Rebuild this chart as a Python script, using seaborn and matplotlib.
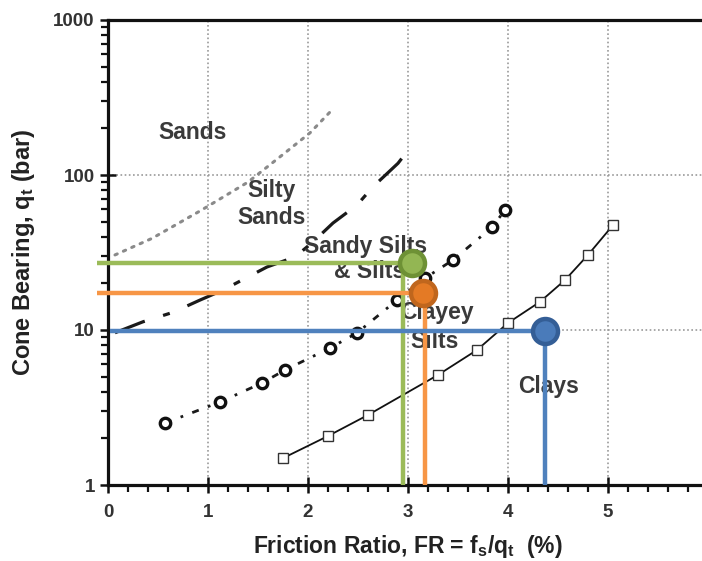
import numpy as np
import matplotlib
matplotlib.use('Agg')
import matplotlib.pyplot as plt
import seaborn as sns
from matplotlib.ticker import FixedLocator, NullFormatter

sns.set_theme(style='white')
plt.rcParams['font.family'] = ['Liberation Sans', 'DejaVu Sans']
plt.rcParams['mathtext.fontset'] = 'custom'
plt.rcParams['mathtext.rm'] = 'Liberation Sans:bold'
plt.rcParams['mathtext.it'] = 'Liberation Sans:bold'
plt.rcParams['mathtext.bf'] = 'Liberation Sans:bold'
plt.rcParams['mathtext.default'] = 'rm'

# boundary curves (FR in %, qt in bar)
sands_fr = [0.07, 0.44, 0.92, 1.40, 1.72, 2.02, 2.25]
sands_qt = [30.5, 39, 58.6, 90, 131, 187, 267]

silty_fr = [0.07, 0.35, 0.65, 0.92, 1.15, 1.59, 1.87, 2.05, 2.25, 2.49, 2.65, 2.90, 2.95]
silty_qt = [9.6, 11.3, 13.0, 15.6, 18.1, 25.5, 29.6, 37, 49, 64, 84, 119, 131]

sandy_fr = [0.57, 1.12, 1.54, 1.77, 2.22, 2.49, 2.89, 3.17, 3.45, 3.84, 3.97]
sandy_qt = [2.51, 3.43, 4.55, 5.52, 7.65, 9.57, 15.6, 21.6, 28.3, 46, 59.4]

clay_fr = [1.75, 2.2, 2.6, 3.3, 3.69, 4.0, 4.32, 4.57, 4.8, 5.05]
clay_qt = [1.49, 2.07, 2.83, 5.13, 7.43, 11.1, 15.2, 21, 30.5, 47.5]

# zone labels
zone_text = ['Sands', 'Silty', 'Sands', 'Sandy Silts', '& Silts', 'Clayey', 'Silts', 'Clays']
zone_fr = [0.85, 1.64, 1.64, 2.58, 2.62, 3.29, 3.27, 4.41]
zone_qt = [189, 80, 52.8, 34.8, 23.7, 12.9, 8.4, 4.29]

# highlighted readings: horizontal start, circle point, vertical line position
mark_names = ['green', 'orange', 'blue']
mark_qt = [27.0, 17.3, 9.9]
mark_start = [-0.11, -0.11, 0.02]
mark_circle_fr = [3.04, 3.15, 4.37]
mark_vert_fr = [2.95, 3.17, 4.37]
line_colors = ['#9BBB59', '#F79646', '#4F81BD']
face_colors = ['#93B653', '#E47A25', '#4A7BBA']
edge_colors = ['#6E9135', '#C0661D', '#345E96']

fig = plt.figure(figsize=(7.02, 5.61), dpi=100)
ax = fig.add_axes([108 / 702, 76 / 561, 600 / 702, 465 / 561])

sns.lineplot(x=sands_fr, y=sands_qt, ax=ax, color='#8a8a8a', lw=2.2,
             linestyle=(0, (0.8, 2.2)), dash_capstyle='round', sort=False, estimator=None)
sns.lineplot(x=silty_fr, y=silty_qt, ax=ax, color='#1a1a1a', lw=2.3,
             linestyle=(0, (10, 6, 2.2, 6)), sort=False, estimator=None)
sns.lineplot(x=sandy_fr, y=sandy_qt, ax=ax, color='#1a1a1a', lw=2.0,
             linestyle=(0, (2.5, 3.5, 1, 3.5)), marker='o', markersize=7.5,
             markerfacecolor='white', markeredgecolor='#111111', markeredgewidth=2.4,
             sort=False, estimator=None)
sns.lineplot(x=clay_fr, y=clay_qt, ax=ax, color='#111111', lw=1.3,
             marker='s', markersize=7, markerfacecolor='white',
             markeredgecolor='#333333', markeredgewidth=1.0, sort=False, estimator=None)

ax.set_yscale('log')
ax.set_xlim(0, 6)
ax.set_ylim(1, 1000)

ax.yaxis.set_major_locator(FixedLocator([1, 10, 100, 1000]))
ax.set_yticklabels(['1', '10', '100', '1000'])
minor_y = [m * 10 ** e for e in range(0, 3) for m in range(2, 10)]
ax.yaxis.set_minor_locator(FixedLocator(minor_y))
ax.yaxis.set_minor_formatter(NullFormatter())
ax.set_xticks(range(0, 7))
ax.set_xticklabels(['0', '1', '2', '3', '4', '5', ''])
ax.set_xticks(np.arange(0, 6.01, 0.2), minor=True)

ax.grid(True, which='major', color='#9a9a9a', linestyle=(0, (1, 1.5)), lw=1.2)

for s in ['left', 'bottom', 'top']:
    ax.spines[s].set_color('#111111')
    ax.spines[s].set_linewidth(2.3)
ax.spines['right'].set_visible(False)

ax.tick_params(axis='both', which='both', bottom=True, left=True, top=False, right=False)
ax.tick_params(axis='both', which='major', direction='inout', length=11, width=1.8,
               color='#111111', labelsize=13.5, labelcolor='#333333')
ax.tick_params(axis='both', which='minor', direction='out', length=5, width=1.6, color='#111111')
ax.tick_params(axis='x', which='major', pad=8)
ax.tick_params(axis='y', which='major', pad=4)
for lab in ax.get_xticklabels() + ax.get_yticklabels():
    lab.set_fontweight('bold')

for t, x, y in zip(zone_text, zone_fr, zone_qt):
    ax.text(x, y, t, ha='center', va='center', fontsize=16.5, fontweight='bold',
            color='#3a3a3a')

ax.set_xlabel(r'Friction Ratio, FR = f$_{s}$/q$_{t}$  (%)', fontsize=16.5,
              fontweight='bold', color='#222222', labelpad=9)
ax.set_ylabel(r'Cone Bearing, q$_{t}$ (bar)', fontsize=17,
              fontweight='bold', color='#222222', labelpad=12)

for i in range(len(mark_names)):
    ax.plot([mark_vert_fr[i], mark_vert_fr[i]], [1, mark_qt[i]], color=line_colors[i],
            lw=3.2, solid_capstyle='butt', clip_on=False, zorder=5)
    ax.plot([mark_start[i], mark_circle_fr[i]], [mark_qt[i], mark_qt[i]], color=line_colors[i],
            lw=3.2, solid_capstyle='butt', clip_on=False, zorder=5)
    ax.plot([mark_circle_fr[i]], [mark_qt[i]], marker='o', markersize=18,
            markerfacecolor=face_colors[i], markeredgecolor=edge_colors[i],
            markeredgewidth=3.2, clip_on=False, zorder=6)

fig.savefig('out.png', dpi=100)
